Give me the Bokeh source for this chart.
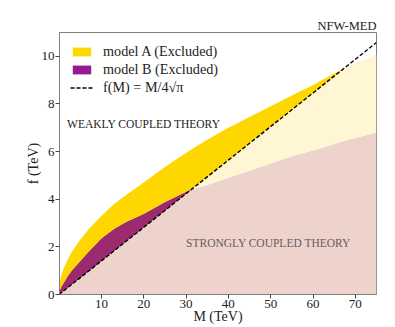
import numpy as np
from bokeh.plotting import figure
from bokeh.models import Range1d, Legend, LegendItem, Label, FixedTicker
from bokeh.embed import file_html
from bokeh.resources import INLINE

# ---- data ----
mass = [0, 0.5, 1, 2, 3, 4, 5, 7, 10, 13, 16, 20, 25, 31.3, 35, 40, 45, 50, 55, 60, 67.5, 75]
model_a = [0.35, 0.8, 1.05, 1.45, 1.8, 2.05, 2.3, 2.75, 3.3, 3.8, 4.2, 4.7, 5.35, 6.1,
           6.5, 7.0, 7.45, 7.9, 8.35, 8.8, 9.52, 10.07]
model_b = [0.1, 0.3, 0.45, 0.75, 1.0, 1.2, 1.4, 1.8, 2.35, 2.75, 3.05, 3.38, 3.87, 4.41,
           4.6, 4.9, 5.2, 5.5, 5.8, 6.05, 6.45, 6.8]
x_ticks = [10, 20, 30, 40, 50, 60, 70]
y_ticks = [0, 2, 4, 6, 8, 10]

M = np.array(mass, dtype=float)
A = np.array(model_a)
B = np.array(model_b)
D = M / (4 * np.sqrt(np.pi))          # f(M) = M / 4 sqrt(pi)

FONT = "Liberation Serif"

p = figure(width=395, height=327, output_backend="svg", toolbar_location=None,
           x_range=Range1d(0.1, 75), y_range=Range1d(0, 11),
           min_border_left=59, min_border_right=19, min_border_top=32, min_border_bottom=33)

p.title.text = "NFW-MED"
p.title.align = "right"
p.title.text_font = FONT
p.title.text_font_size = "12.5px"
p.title.text_font_style = "normal"
p.title.text_color = "#222222"
p.title.standoff = 0

# regions
pink_top = np.minimum(D, B)
p.varea(x=M, y1=0, y2=pink_top, fill_color="#EED3CD")
p.varea(x=M, y1=pink_top, y2=np.maximum(np.minimum(A, D), pink_top), fill_color="#FFF6D4")
purple_upper = np.maximum(B, D)
proxy_b = p.varea(x=M, y1=D, y2=purple_upper, fill_color="#961A96")   # legend colour
p.varea(x=M, y1=D, y2=purple_upper, fill_color="#9C2A6E")            # shaded as drawn
low_y = np.maximum(D, B)
yellow = p.varea(x=M, y1=low_y, y2=np.maximum(A, low_y), fill_color="#FFD700")
line = p.line(x=M, y=D, line_color="black", line_width=1.4, line_dash="4 2")

legend = Legend(items=[
    LegendItem(label="model A (Excluded)", renderers=[yellow]),
    LegendItem(label="model B (Excluded)", renderers=[proxy_b]),
    LegendItem(label="f(M) = M/4√π", renderers=[line]),
], location="top_left")
legend.background_fill_alpha = 0
legend.border_line_alpha = 0
legend.label_text_font = FONT
legend.label_text_font_size = "14.2px"
legend.label_text_color = "#222222"
legend.glyph_width = 23
legend.glyph_height = 11
legend.label_height = 16
legend.spacing = 1
legend.margin = 5
legend.padding = 6
legend.label_standoff = 10
p.add_layout(legend)

# annotations
p.add_layout(Label(x=1.9, y=7.15, text="WEAKLY COUPLED THEORY", text_font=FONT,
                   text_font_size="11.5px", text_color="#222222", text_baseline="middle"))
p.add_layout(Label(x=30, y=2.15, text="STRONGLY COUPLED THEORY", text_font=FONT,
                   text_font_size="11.5px", text_color="#6a5a5a", text_baseline="middle"))

# axes styling
p.xaxis.axis_label = "M (TeV)"
p.yaxis.axis_label = "f (TeV)"
p.xgrid.visible = False
p.ygrid.visible = False
p.xaxis.ticker = FixedTicker(ticks=x_ticks)
p.yaxis.ticker = FixedTicker(ticks=y_ticks)
for ax in (p.xaxis, p.yaxis):
    ax.major_label_text_font = FONT
    ax.major_label_text_font_size = "13px"
    ax.major_label_text_color = "#222222"
    ax.major_label_standoff = 1
    ax.axis_label_text_font = FONT
    ax.axis_label_text_font_size = "14px"
    ax.axis_label_text_font_style = "normal"
    ax.axis_label_text_color = "#222222"
    ax.axis_label_standoff = -2
    ax.axis_line_color = "#7f7f7f"
    ax.major_tick_line_color = "#444444"
    ax.major_tick_in = 0
    ax.major_tick_out = 4
    ax.minor_tick_line_color = None
p.outline_line_color = "#7f7f7f"
p.outline_line_width = 1

open("out.html", "w").write(file_html(p, INLINE))
